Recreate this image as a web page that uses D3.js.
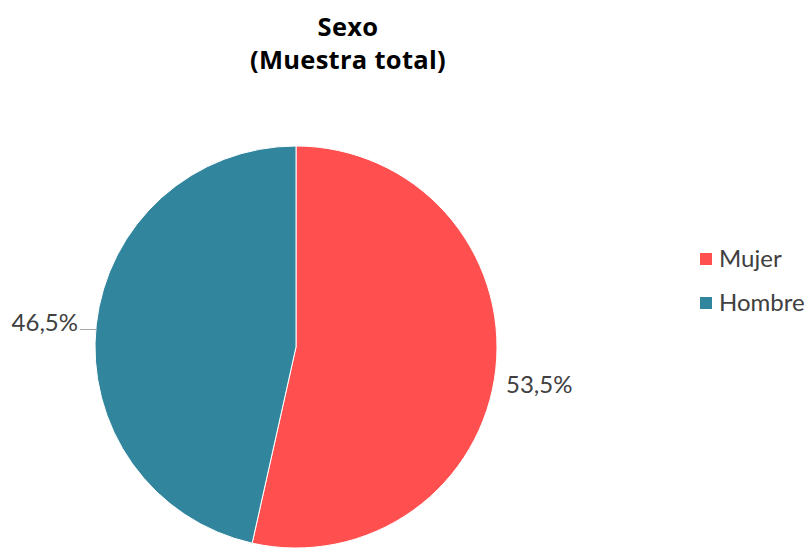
<!DOCTYPE html>
<html><head><meta charset="utf-8">
<script src="https://cdn.jsdelivr.net/npm/d3@7"></script>
<style>body{margin:0;background:#fff}svg{display:block;font-family:Lato,"Open Sans",sans-serif}</style>
</head><body>
<svg id="c" width="809" height="549"></svg>
<script>
const categories = ["Mujer", "Hombre"];
const values = [53.5, 46.5];
const colors = ["#FF4F4F", "#31859C"];
const titleLines = ["Sexo", "(Muestra total)"];

const svg = d3.select("#c");
const cx = 296, cy = 347, r = 201;

svg.selectAll("text.title").data(titleLines).join("text")
  .attr("class","title").attr("x", 348).attr("y",(d,i)=>36+i*33)
  .attr("text-anchor","middle").attr("font-size",25.5).attr("font-weight","bold")
  .attr("font-family","'Open Sans',sans-serif").attr("letter-spacing",0.3)
  .attr("fill","#000").text(d=>d);

const pie = d3.pie().sort(null).value(d=>d)(values);
const arc = d3.arc().innerRadius(0).outerRadius(r);
const g = svg.append("g").attr("transform",`translate(${cx},${cy})`);
g.selectAll("path").data(pie).join("path")
  .attr("d",arc).attr("fill",(d,i)=>colors[i])
  .attr("stroke","#fff").attr("stroke-width",1);

const fmt = v => d3.format(".1f")(v).replace(".",",") + "%";
const lab = [
  {x: 506, y: 393, anchor: "start"},
  {x: 78, y: 331, anchor: "end"}
];
svg.selectAll("text.lbl").data(pie).join("text")
  .attr("class","lbl").attr("x",(d,i)=>lab[i].x).attr("y",(d,i)=>lab[i].y)
  .attr("text-anchor",(d,i)=>lab[i].anchor).attr("font-size",24).attr("fill","#404040")
  .text(d=>fmt(d.data));
// leader line for Hombre
svg.append("line").attr("x1",80).attr("y1",329.5).attr("x2",96).attr("y2",329.5)
  .attr("stroke","#A6A6A6").attr("stroke-width",1);

const leg = svg.selectAll("g.leg").data(categories).join("g")
  .attr("class","leg").attr("transform",(d,i)=>`translate(700,${253+i*44})`);
leg.append("rect").attr("width",12).attr("height",12).attr("fill",(d,i)=>colors[i]);
leg.append("text").attr("x",19).attr("y",14).attr("font-size",24).attr("fill","#404040").text(d=>d);
</script>
</body></html>
